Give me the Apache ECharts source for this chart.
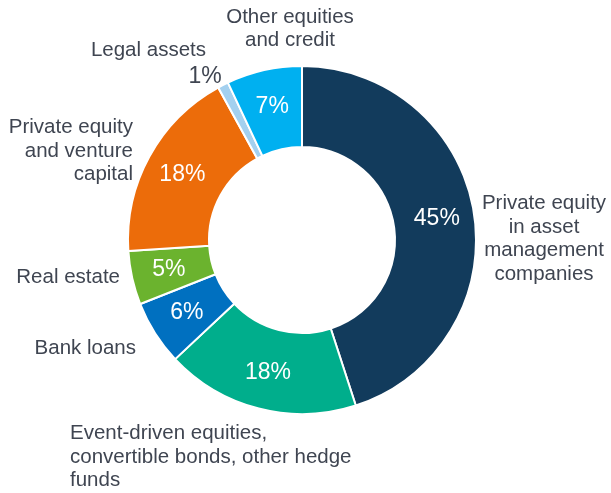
<!DOCTYPE html>
<html>
<head>
<meta charset="utf-8">
<style>html,body{margin:0;padding:0;background:#fff}#c{width:611px;height:493px}</style>
<script src="https://cdn.jsdelivr.net/npm/echarts@6/dist/echarts.min.js"></script>
</head>
<body>
<div id="c"></div>
<script>
const categories = [
  "Private equity\nin asset\nmanagement\ncompanies",
  "Event-driven equities,\nconvertible bonds, other hedge\nfunds",
  "Bank loans",
  "Real estate",
  "Private equity\nand venture\ncapital",
  "Legal assets",
  "Other equities\nand credit"
];
const values = [45, 18, 6, 5, 18, 1, 7];
const colors = ["#123b5c", "#00ae8c", "#0070c0", "#6bb32e", "#ec6c0a", "#a3d0ef", "#00b0f0"];

const TEXT = "#3f4551";
const FONT = "Liberation Sans, Arial, sans-serif";

// outer label anchors (x, y, align)
const outerAnchor = [
  [544, 239, "center"],
  [70, 457, "left"],
  [136, 348, "right"],
  [120, 277, "right"],
  [133, 151, "right"],
  [206, 50, "right"],
  [290, 29, "center"]
];
const LEGAL = 5;
const legalPctAnchor = [205, 77];

const chart = echarts.init(document.getElementById("c"));

const innerData = values.map((v, i) => {
  const d = { name: categories[i], value: v, itemStyle: { color: colors[i] } };
  if (i === LEGAL) d.label = { color: TEXT };
  return d;
});
const outerData = values.map((v, i) => ({
  name: categories[i], value: v,
  label: { align: outerAnchor[i][2] }
}));

chart.setOption({
  animation: false,
  series: [
    {
      type: "pie",
      center: [302, 240],
      radius: [93, 174],
      startAngle: 90,
      clockwise: true,
      avoidLabelOverlap: false,
      itemStyle: { borderColor: "#ffffff", borderWidth: 2 },
      label: {
        show: true,
        position: "inside",
        formatter: p => p.value + "%",
        color: "#ffffff",
        fontFamily: FONT,
        fontSize: 23
      },
      labelLine: { show: false },
      labelLayout: p => p.dataIndex === LEGAL
        ? { x: legalPctAnchor[0], y: legalPctAnchor[1], align: "center", verticalAlign: "middle" }
        : {},
      emphasis: { disabled: true },
      data: innerData
    },
    {
      type: "pie",
      center: [302, 240],
      radius: [93, 174],
      startAngle: 90,
      clockwise: true,
      silent: true,
      avoidLabelOverlap: false,
      itemStyle: { color: "rgba(0,0,0,0)", borderWidth: 0 },
      label: {
        show: true,
        position: "outside",
        formatter: p => p.name,
        color: TEXT,
        fontFamily: FONT,
        fontSize: 20.5,
        lineHeight: 23.5
      },
      labelLine: { show: false },
      labelLayout: p => ({
        x: outerAnchor[p.dataIndex][0],
        y: outerAnchor[p.dataIndex][1],
        align: outerAnchor[p.dataIndex][2],
        verticalAlign: "middle"
      }),
      emphasis: { disabled: true },
      data: outerData
    }
  ]
});
</script>
</body>
</html>
